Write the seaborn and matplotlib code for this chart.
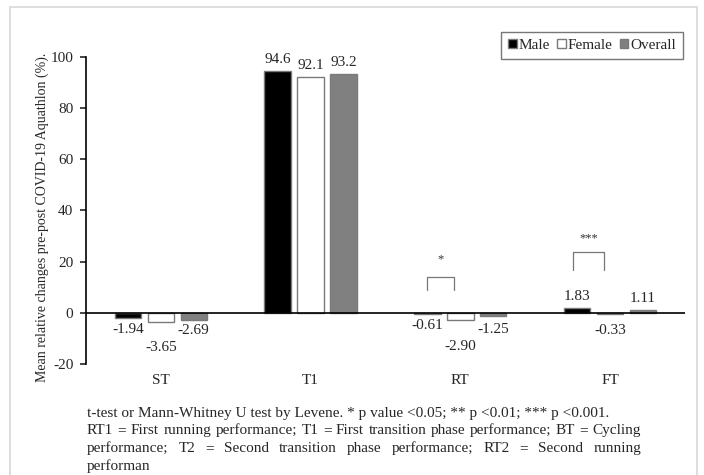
import pandas as pd
import numpy as np
import seaborn as sns
import matplotlib.pyplot as plt
from matplotlib.patches import Rectangle

# values
phases = ["ST", "T1", "RT", "FT"]
groups = ["Male", "Female", "Overall"]
male = [-1.94, 94.6, -0.61, 1.83]
female = [-3.65, 92.1, -2.90, -0.33]
overall = [-2.69, 93.2, -1.25, 1.11]
labels_male = ["-1.94", "94.6", "-0.61", "1.83"]
labels_female = ["-3.65", "92.1", "-2.90", "-0.33"]
labels_overall = ["-2.69", "93.2", "-1.25", "1.11"]
yticks = [-20, 0, 20, 40, 60, 80, 100]

df = pd.DataFrame({
    "phase": phases * 3,
    "group": ["Male"] * 4 + ["Female"] * 4 + ["Overall"] * 4,
    "value": male + female + overall,
})

sns.set_style("white")
plt.rcParams["font.family"] = ["Liberation Serif", "DejaVu Serif"]
plt.rcParams["axes.unicode_minus"] = False

fig = plt.figure(figsize=(7.04, 4.75), dpi=100)
ax = fig.add_axes([0.122, 0.234, 0.851, 0.646])

colors = {"Male": "#000000", "Female": "#ffffff", "Overall": "#808080"}
sns.barplot(data=df, x="phase", y="value", hue="group", hue_order=groups,
            order=phases, palette=colors, width=0.66, gap=0.2,
            edgecolor="#7a7a7a", linewidth=1.0, ax=ax, legend=True)

# value labels (female negatives pushed lower where they would collide)
all_labels = [labels_male, labels_female, labels_overall]
neg_off = [[-4.6, -4.6, -4.3, -4.6],
           [-10, -4.6, -10.5, -6.6],
           [-4.2, -4.6, -5.2, -4.6]]
for cont, labs, offs in zip(ax.containers, all_labels, neg_off):
    for bar, lab, off in zip(cont, labs, offs):
        h = bar.get_height()
        x = bar.get_x() + bar.get_width() / 2
        if h >= 0:
            ax.text(x, h + 4.5, lab, ha="center", va="center", fontsize=11)
        else:
            ax.text(x, h + off, lab, ha="center", va="center", fontsize=11)

# significance brackets
def bracket(x1, x2, y_top, y_leg, star, y_star):
    ax.plot([x1, x1, x2, x2], [y_leg, y_top, y_top, y_leg], color="#777777", lw=0.9)
    ax.text((x1 + x2) / 2, y_star, star, ha="center", va="center", fontsize=9, color="#333333")

bracket(1.78, 1.96, 14, 9, "*", 21)
bracket(2.75, 2.96, 23.8, 16.8, "***", 29)

ax.axhline(0, color="black", lw=1.2)
ax.set_xlim(-0.5, 3.5)
ax.set_ylim(-20, 100)
ax.set_yticks(yticks)
ax.set_xlabel("")
ax.set_ylabel("Mean relative changes pre-post COVID-19 Aquathlon (%).", fontsize=10)
ax.yaxis.set_label_coords(-0.062, 0.476)
sns.despine(ax=ax, top=True, right=True, bottom=True)
ax.spines["left"].set_color("black")
ax.spines["left"].set_linewidth(1.2)
ax.tick_params(axis="y", left=True, length=4, width=1.2, direction="out", labelsize=11, pad=5)
ax.tick_params(axis="x", bottom=False, labelsize=11, pad=4)

handles, labels = ax.get_legend_handles_labels()
ax.legend(handles, labels, ncol=3, loc="upper right",
          bbox_to_anchor=(683 / 704, 1 - 32 / 475), bbox_transform=fig.transFigure,
          borderaxespad=0, frameon=True, fancybox=False, edgecolor="#555555",
          fontsize=11, handlelength=0.55, handleheight=0.55, handletextpad=0.15,
          columnspacing=0.45, borderpad=0.45)

# footnote, lines 2 and 3 justified like the source
notes = [
    "t-test or Mann-Whitney U test by Levene. * p value <0.05; ** p <0.01; *** p <0.001.",
    "RT1 = First running performance; T1 = First transition phase performance; BT = Cycling",
    "performance; T2 = Second transition phase performance; RT2 = Second running",
    "performan",
]
justify = [False, True, True, False]
left_px, right_px = 87, 641
renderer = fig.canvas.get_renderer()
for i, (line, just) in enumerate(zip(notes, justify)):
    y = 1 - (413 + i * 17.6) / 475
    if not just:
        fig.text(left_px / 704, y, line, fontsize=11, va="center", ha="left")
        continue
    words = line.split(" ")
    arts = [fig.text(0, y, w, fontsize=11, va="center", ha="left") for w in words]
    widths = [a.get_window_extent(renderer).width for a in arts]
    space = (right_px - left_px - sum(widths)) / (len(words) - 1)
    xpos = left_px
    for a, w in zip(arts, widths):
        a.set_x(xpos / 704)
        xpos += w + space

# light frame around the figure
fig.patches.append(Rectangle((10 / 704, -0.01), 687 / 704, 1 - 7 / 475 + 0.01,
                             transform=fig.transFigure, fill=False,
                             edgecolor="#d8d8d8", lw=1.2))

fig.savefig("out.png", dpi=100)
